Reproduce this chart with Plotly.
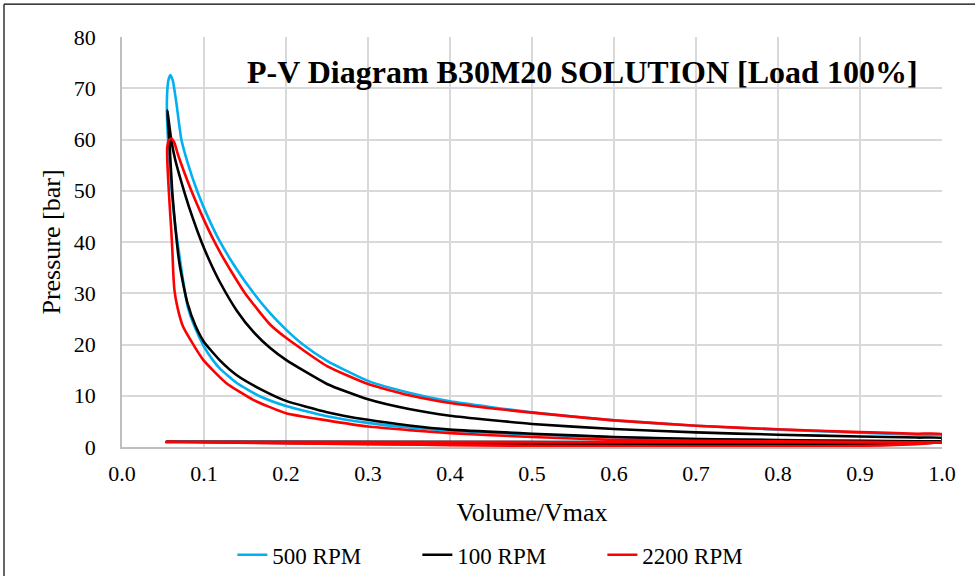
import plotly.graph_objects as go

# ---- data (Volume/Vmax, Pressure [bar]) ----
series_names = ["500 RPM", "100 RPM", "2200 RPM"]
series_colors = ["#00b0f0", "#000000", "#ff0000"]

# 500 RPM loop: compression -> combustion -> expansion -> blowdown -> exhaust -> intake
v_500 = [1.0, 0.97, 0.9, 0.8, 0.7, 0.6, 0.5, 0.4, 0.35, 0.3, 0.25, 0.2, 0.168, 0.14, 0.12, 0.111,
         0.1, 0.089, 0.08, 0.073, 0.069, 0.065, 0.062, 0.059, 0.0565, 0.055, 0.0548, 0.0565,
         0.059, 0.062, 0.066, 0.0724, 0.08, 0.0927, 0.105, 0.119, 0.133, 0.155, 0.18, 0.2,
         0.2207, 0.25, 0.3, 0.35, 0.4, 0.5, 0.6, 0.7, 0.8, 0.9, 0.97, 1.0, 1.0, 0.0545, 1.0]
p_500 = [1.0, 1.05, 1.15, 1.3, 1.55, 1.9, 2.45, 3.2, 3.8, 4.7, 6.0, 8.0, 9.9, 12.5, 15.2, 16.9,
         19.6, 23.3, 27.5, 34.0, 38.5, 43.0, 47.5, 53.0, 59.0, 64.0, 68.0, 71.5,
         72.6, 71.5, 67.5, 60.0, 55.5, 49.5, 44.8, 40.2, 36.4, 31.2, 26.2, 22.9,
         20.0, 16.8, 12.9, 10.6, 8.9, 6.75, 5.2, 4.15, 3.4, 2.8, 2.4, 2.25, 1.1, 1.05, 0.9]

# 100 RPM loop
v_100 = [1.0, 0.97, 0.9, 0.8, 0.7, 0.6, 0.5, 0.4, 0.35, 0.3, 0.25, 0.2, 0.17, 0.14, 0.12, 0.1,
         0.09, 0.08, 0.072, 0.069, 0.065, 0.0614, 0.058, 0.0554, 0.0575, 0.06, 0.065, 0.0765,
         0.086, 0.097, 0.106, 0.12, 0.14, 0.16, 0.18, 0.2, 0.25, 0.3, 0.35, 0.4, 0.5, 0.6,
         0.7, 0.8, 0.9, 0.97, 1.0, 1.0, 0.0545, 1.0]
p_100 = [1.1, 1.13, 1.2, 1.35, 1.55, 1.95, 2.6, 3.4, 4.2, 5.3, 6.8, 9.0, 11.2, 14.0, 16.8, 20.5,
         23.5, 28.0, 34.0, 37.0, 43.0, 49.5, 59.0, 65.7, 63.0, 60.0, 56.0, 49.5,
         44.8, 40.0, 36.6, 32.0, 26.6, 22.5, 19.4, 17.0, 12.3, 9.3, 7.4, 6.1, 4.5, 3.5,
         2.85, 2.4, 2.05, 1.84, 1.75, 1.2, 1.0, 0.95]

# 2200 RPM loop
v_2200 = [1.0, 0.97, 0.9, 0.8, 0.7, 0.6, 0.5, 0.4, 0.35, 0.3, 0.25, 0.2, 0.16, 0.127, 0.099,
          0.085, 0.0744, 0.068, 0.064, 0.0625, 0.0615, 0.06, 0.058, 0.0562, 0.0551, 0.0552,
          0.057, 0.0602, 0.064, 0.068, 0.075, 0.0846, 0.098, 0.111, 0.121, 0.135, 0.15, 0.18,
          0.2, 0.25, 0.3, 0.35, 0.4, 0.5, 0.6, 0.7, 0.8, 0.9, 0.97, 1.0, 1.0, 0.0545, 1.0]
p_2200 = [0.9, 0.93, 1.0, 1.1, 1.2, 1.4, 1.95, 2.7, 3.3, 4.0, 5.2, 6.6, 9.2, 12.5, 17.0,
          20.5, 23.5, 27.0, 30.5, 34.0, 38.0, 42.5, 47.5, 52.5, 56.5, 58.5,
          59.8, 60.2, 59.3, 57.2, 54.0, 50.0, 45.0, 40.6, 37.6, 33.8, 30.0, 24.0,
          21.3, 15.8, 12.3, 10.1, 8.6, 6.7, 5.2, 4.15, 3.45, 2.9, 2.6, 2.5, 1.1, 1.0, 0.9]

x_ticks = [0.0, 0.1, 0.2, 0.3, 0.4, 0.5, 0.6, 0.7, 0.8, 0.9, 1.0]
y_ticks = [0, 10, 20, 30, 40, 50, 60, 70, 80]

FONT = "Liberation Serif, Times New Roman, serif"

fig = go.Figure()
for name, color, vs, ps in zip(series_names, series_colors,
                                [v_500, v_100, v_2200], [p_500, p_100, p_2200]):
    fig.add_trace(go.Scatter(x=vs, y=ps, mode="lines", name=name,
                             line=dict(color=color, width=2.6, shape="spline", smoothing=0.5)))

fig.update_layout(
    width=975, height=576,
    margin=dict(l=122, r=33, t=37, b=129, autoexpand=False),
    paper_bgcolor="white", plot_bgcolor="white",
    font=dict(family=FONT, size=22, color="black"),
    showlegend=True,
    legend=dict(orientation="h", x=0.473, xanchor="center", y=-0.263, yanchor="middle",
                font=dict(family=FONT, size=23, color="black"),
                entrywidth=140, entrywidthmode="pixels",
                traceorder="normal"),
    xaxis=dict(range=[0, 1], tickvals=x_ticks, ticktext=[f"{t:.1f}" for t in x_ticks],
               showgrid=True, gridcolor="#d9d9d9", gridwidth=1.5, automargin=False,
               showline=True, linecolor="#bfbfbf", linewidth=1.5, zeroline=False,
               ticks="", ticklabelstandoff=6, tickfont=dict(size=22),
               title=dict(text="Volume/Vmax", font=dict(family=FONT, size=26), standoff=18)),
    yaxis=dict(range=[0, 80], tickvals=y_ticks,
               showgrid=True, gridcolor="#d9d9d9", gridwidth=1.5, automargin=False,
               showline=True, linecolor="#bfbfbf", linewidth=1.5, zeroline=False,
               ticks="", ticklabelstandoff=20, tickfont=dict(size=22),
               title=dict(text="Pressure [bar]", font=dict(family=FONT, size=26), standoff=6)),
    annotations=[dict(text="<b>P-V Diagram B30M20 SOLUTION [Load 100%]</b>",
                      xref="paper", yref="paper", x=0.561, y=0.914,
                      xanchor="center", yanchor="middle", showarrow=False,
                      font=dict(family=FONT, size=32, color="black"))],
    shapes=[
        dict(type="line", xref="paper", yref="paper", x0=-0.1439, x1=-0.1439, y0=-0.40, y1=1.080,
             line=dict(color="black", width=1.2)),
        dict(type="line", xref="paper", yref="paper", x0=-0.1439, x1=1.10, y0=1.080, y1=1.080,
             line=dict(color="black", width=1.2)),
    ],
)

fig.write_html("out.html")
